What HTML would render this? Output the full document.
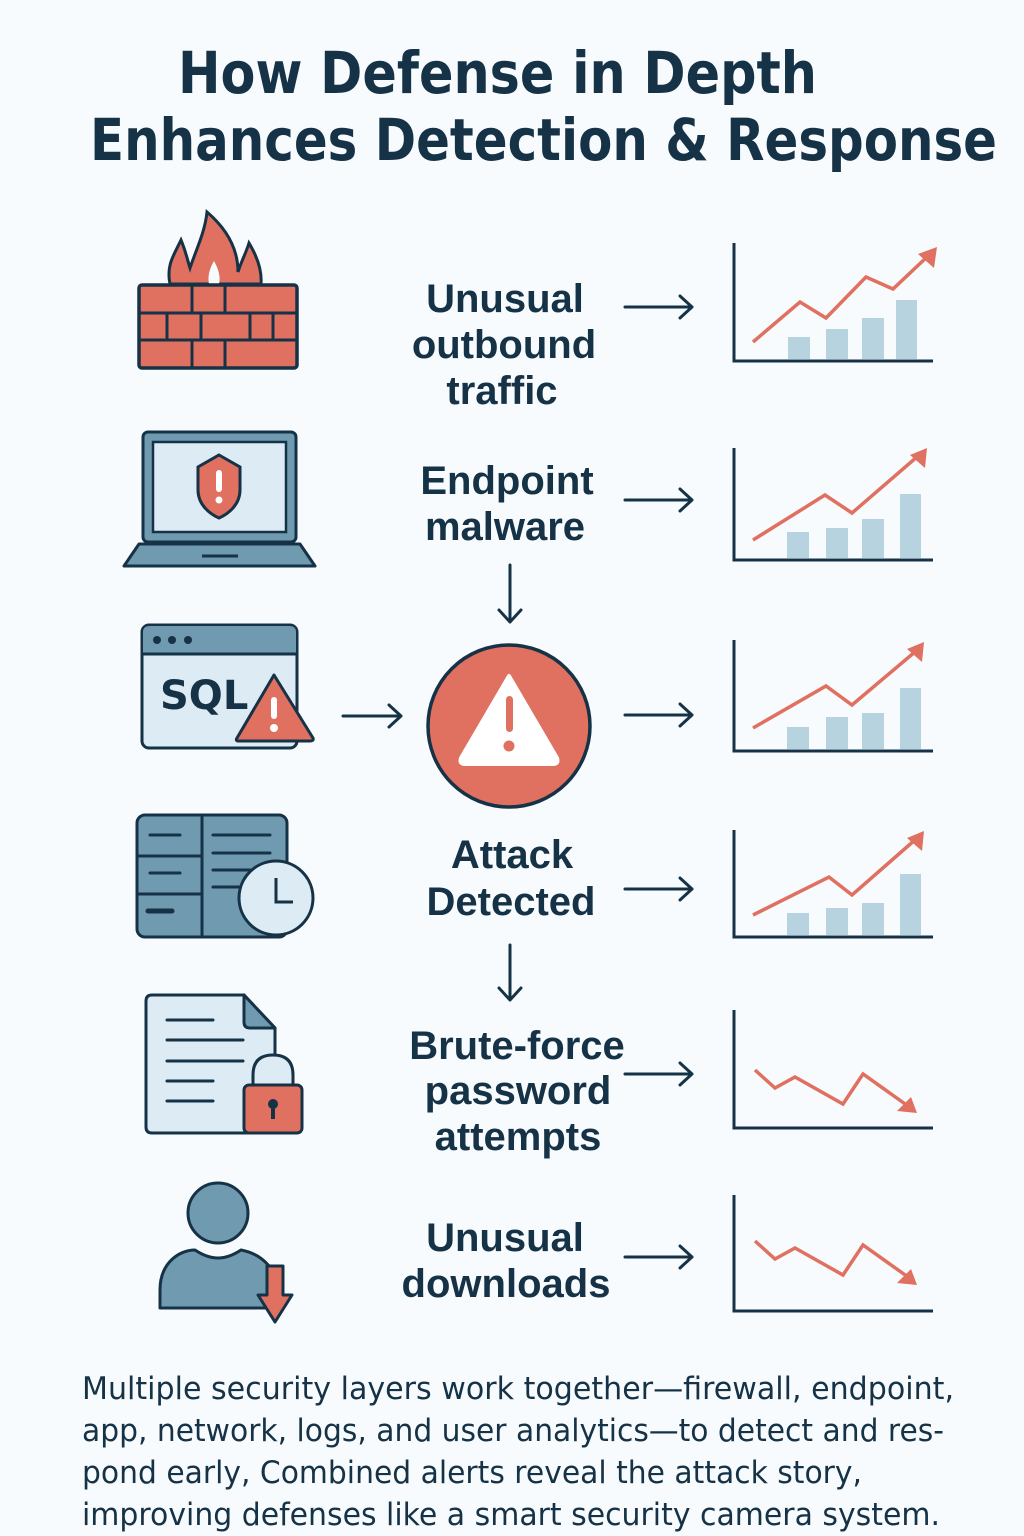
<!DOCTYPE html>
<html><head><meta charset="utf-8"><style>
html,body{margin:0;padding:0;background:#f7fbfd;}
svg{display:block;}
text{font-family:"DejaVu Sans","Liberation Sans",sans-serif;fill:#163246;}
.lb{font-family:"Liberation Sans",sans-serif;}
</style></head><body>
<svg width="1024" height="1536" viewBox="0 0 1024 1536" xmlns="http://www.w3.org/2000/svg">
<rect width="1024" height="1536" fill="#f7fbfd"/>
<text x="178" y="93" font-size="58" font-weight="bold" textLength="639" lengthAdjust="spacingAndGlyphs">How Defense in Depth</text>
<text x="90" y="160" font-size="58" font-weight="bold" textLength="907" lengthAdjust="spacingAndGlyphs">Enhances Detection &amp; Response</text>

<g font-size="40" text-anchor="middle" font-weight="bold" class="lb">
<text class="lb" x="505" y="312">Unusual</text>
<text class="lb" x="504" y="358">outbound</text>
<text class="lb" x="502" y="404">traffic</text>
<text class="lb" x="507" y="494">Endpoint</text>
<text class="lb" x="505" y="540">malware</text>
<text class="lb" x="512" y="868">Attack</text>
<text class="lb" x="511" y="915">Detected</text>
<text class="lb" x="517" y="1059">Brute-force</text>
<text class="lb" x="518" y="1104">password</text>
<text class="lb" x="518" y="1150">attempts</text>
<text class="lb" x="505" y="1251">Unusual</text>
<text class="lb" x="506" y="1297">downloads</text>
</g>

<g font-size="31">
<text x="82" y="1399" textLength="872" lengthAdjust="spacingAndGlyphs">Multiple security layers work together—firewall, endpoint,</text>
<text x="82" y="1441" textLength="862" lengthAdjust="spacingAndGlyphs">app, network, logs, and user analytics—to detect and res-</text>
<text x="82" y="1483" textLength="780" lengthAdjust="spacingAndGlyphs">pond early, Combined alerts reveal the attack story,</text>
<text x="82" y="1525" textLength="858" lengthAdjust="spacingAndGlyphs">improving defenses like a smart security camera system.</text>
</g>

<g stroke="#163246" stroke-width="3" fill="none" stroke-linecap="round" stroke-linejoin="round">
<path d="M625 307H692M680 296L692 307L680 318"/>
<path d="M625 500H692M680 489L692 500L680 511"/>
<path d="M625 715H692M680 704L692 715L680 726"/>
<path d="M625 889H692M680 878L692 889L680 900"/>
<path d="M625 1074H692M680 1063L692 1074L680 1085"/>
<path d="M625 1257H692M680 1246L692 1257L680 1268"/>
<path d="M343 716H401M389 705L401 716L389 727"/>
<path d="M510 565V622M499 610L510 622L521 610"/>
<path d="M510 945V1000M499 988L510 1000L521 988"/>
</g>

<g fill="#b7d3e0">
<rect x="788" y="337" width="22" height="22"/><rect x="826" y="329" width="22" height="30"/><rect x="862" y="318" width="22" height="41"/><rect x="896" y="300" width="21" height="59"/>
<rect x="787" y="532" width="22" height="26"/><rect x="826" y="528" width="22" height="30"/><rect x="862" y="519" width="22" height="39"/><rect x="900" y="494" width="21" height="64"/>
<rect x="787" y="727" width="22" height="22"/><rect x="826" y="717" width="22" height="32"/><rect x="862" y="713" width="22" height="36"/><rect x="900" y="688" width="21" height="61"/>
<rect x="787" y="913" width="22" height="22"/><rect x="826" y="908" width="22" height="27"/><rect x="862" y="903" width="22" height="32"/><rect x="900" y="874" width="21" height="61"/>
</g>
<g stroke="#163246" stroke-width="3" fill="none">
<path d="M734 243V361H933"/>
<path d="M734 448V560H933"/>
<path d="M734 640V751H933"/>
<path d="M734 830V937H933"/>
<path d="M734 1010V1128H933"/>
<path d="M734 1195V1311H933"/>
</g>
<g stroke="#e07060" stroke-width="3.5" fill="none">
<path d="M753 342L800 302L826 318L866 277L893 289L928 256"/>
<path d="M753 540L825 495L852 513L918 456"/>
<path d="M753 728L826 686L852 705L916 651"/>
<path d="M753 915L829 877L852 895L916 839"/>
<path d="M755 1070L775 1088L795 1077L843 1104L863 1074L908 1106"/>
<path d="M755 1241L775 1259L795 1248L843 1275L863 1245L908 1277"/>
</g>
<g fill="#e07060">
<path d="M937 247L934 268L918 254Z"/>
<path d="M927 448L925 468L910 455Z"/>
<path d="M924 642L922 662L907 649Z"/>
<path d="M924 831L922 851L907 838Z"/>
<path d="M917 1113L897 1111L911 1097Z"/>
<path d="M917 1285L897 1283L911 1269Z"/>
</g>

<!-- firewall -->
<path d="M170 284C166 265 174 255 181 240C186 252 188 262 190 268C196 250 205 232 207 212C228 230 238 250 238 272C241 262 246 253 249 243C258 258 262 272 261 284Z" fill="#e07060" stroke="#163246" stroke-width="3"/>
<path d="M209 284C207 275 211 266 214 261C218 268 221 277 219 284Z" fill="#f7fbfd"/>
<rect x="139" y="285" width="158" height="83" rx="3" fill="#e07060" stroke="#163246" stroke-width="3.5"/>
<g stroke="#163246" stroke-width="3">
<path d="M139 313H297M139 340H297"/>
<path d="M192 285V313M225 285V313"/><path d="M167 313V340M201 313V340M250 313V340M273 313V340"/><path d="M192 340V368M225 340V368"/>
</g>
<!-- laptop -->
<rect x="143" y="432" width="153" height="110" rx="5" fill="#6f9ab0" stroke="#163246" stroke-width="3"/>
<rect x="153" y="442" width="133" height="90" fill="#dcebf4" stroke="#163246" stroke-width="2.5"/>
<path d="M139 544H300L315 566H124Z" fill="#6f9ab0" stroke="#163246" stroke-width="3" stroke-linejoin="round"/>
<path d="M202 556H238" stroke="#163246" stroke-width="3"/>
<path d="M219 455L240 467V490C240 505 228 514 219 518C210 514 198 505 198 490V467Z" fill="#e07060" stroke="#163246" stroke-width="3"/>
<rect x="216" y="470" width="6" height="22" rx="3" fill="#fff"/><circle cx="219" cy="500" r="3.5" fill="#fff"/>
<!-- SQL window -->
<rect x="142" y="625" width="155" height="123" rx="7" fill="#dcebf4" stroke="#163246" stroke-width="3"/>
<path d="M143 653V632Q143 626 150 626H289Q296 626 296 632V653Z" fill="#6f9ab0"/>
<path d="M142 654H297" stroke="#163246" stroke-width="3"/>
<circle cx="157" cy="640" r="4" fill="#163246"/><circle cx="172" cy="640" r="4" fill="#163246"/><circle cx="188" cy="640" r="4" fill="#163246"/>
<text x="160" y="709" font-size="40" font-weight="bold">SQL</text>
<path d="M274 675L313 738Q314 741 310 741H239Q235 741 237 738Z" fill="#e07060" stroke="#163246" stroke-width="3" stroke-linejoin="round"/>
<rect x="271" y="697" width="6" height="22" rx="3" fill="#fff"/><circle cx="274" cy="728" r="4" fill="#fff"/>
<!-- server -->
<rect x="137" y="815" width="150" height="122" rx="8" fill="#6f9ab0" stroke="#163246" stroke-width="3"/>
<path d="M202 815V937M137 856H202M137 894H202" stroke="#163246" stroke-width="3"/>
<g stroke="#163246" stroke-width="3" stroke-linecap="round"><path d="M150 835H180M150 873H180M213 835H270M213 853H270M213 870H250M213 887H240"/><path d="M148 911H172" stroke-width="5"/></g>
<circle cx="276" cy="898" r="37" fill="#dcebf4" stroke="#163246" stroke-width="3"/>
<path d="M276 878V902H293" stroke="#163246" stroke-width="3" fill="none"/>
<!-- document -->
<path d="M152 995H244L275 1028V1133H152Q146 1133 146 1127V1001Q146 995 152 995Z" fill="#dcebf4" stroke="#163246" stroke-width="3"/>
<path d="M244 995V1022Q244 1028 250 1028H275Z" fill="#6f9ab0" stroke="#163246" stroke-width="3" stroke-linejoin="round"/>
<g stroke="#163246" stroke-width="3" stroke-linecap="round"><path d="M167 1020H213M167 1040H243M167 1061H243M167 1081H213M167 1101H213"/></g>
<path d="M253 1088V1075Q253 1055 273 1055Q293 1055 293 1075V1088" fill="#dcebf4" stroke="#163246" stroke-width="3"/>
<rect x="244" y="1085" width="58" height="48" rx="5" fill="#e07060" stroke="#163246" stroke-width="3"/>
<circle cx="273" cy="1104" r="5" fill="#163246"/><rect x="271" y="1105" width="4" height="14" fill="#163246"/>
<!-- user -->
<ellipse cx="218" cy="1213" rx="30" ry="30" fill="#6f9ab0" stroke="#163246" stroke-width="3"/>
<path d="M160 1308V1290C160 1262 180 1250 195 1250Q207 1258 218 1258Q229 1258 241 1250C262 1254 280 1270 280 1300V1308Z" fill="#6f9ab0" stroke="#163246" stroke-width="3" stroke-linejoin="round"/>
<path d="M267 1266H283V1295H292L275 1322L258 1295H267Z" fill="#e07060" stroke="#163246" stroke-width="3" stroke-linejoin="round"/>
<!-- alert circle -->
<circle cx="509" cy="726" r="81" fill="#e07060" stroke="#163246" stroke-width="3.5"/>
<path d="M509 676L557 758Q559 764 553 764H465Q459 764 461 758Z" fill="#fff" stroke="#fff" stroke-width="4" stroke-linejoin="round"/>
<rect x="506" y="696" width="7" height="36" rx="3.5" fill="#e07060"/><circle cx="509" cy="746" r="5.5" fill="#e07060"/>
</svg>
</body></html>
